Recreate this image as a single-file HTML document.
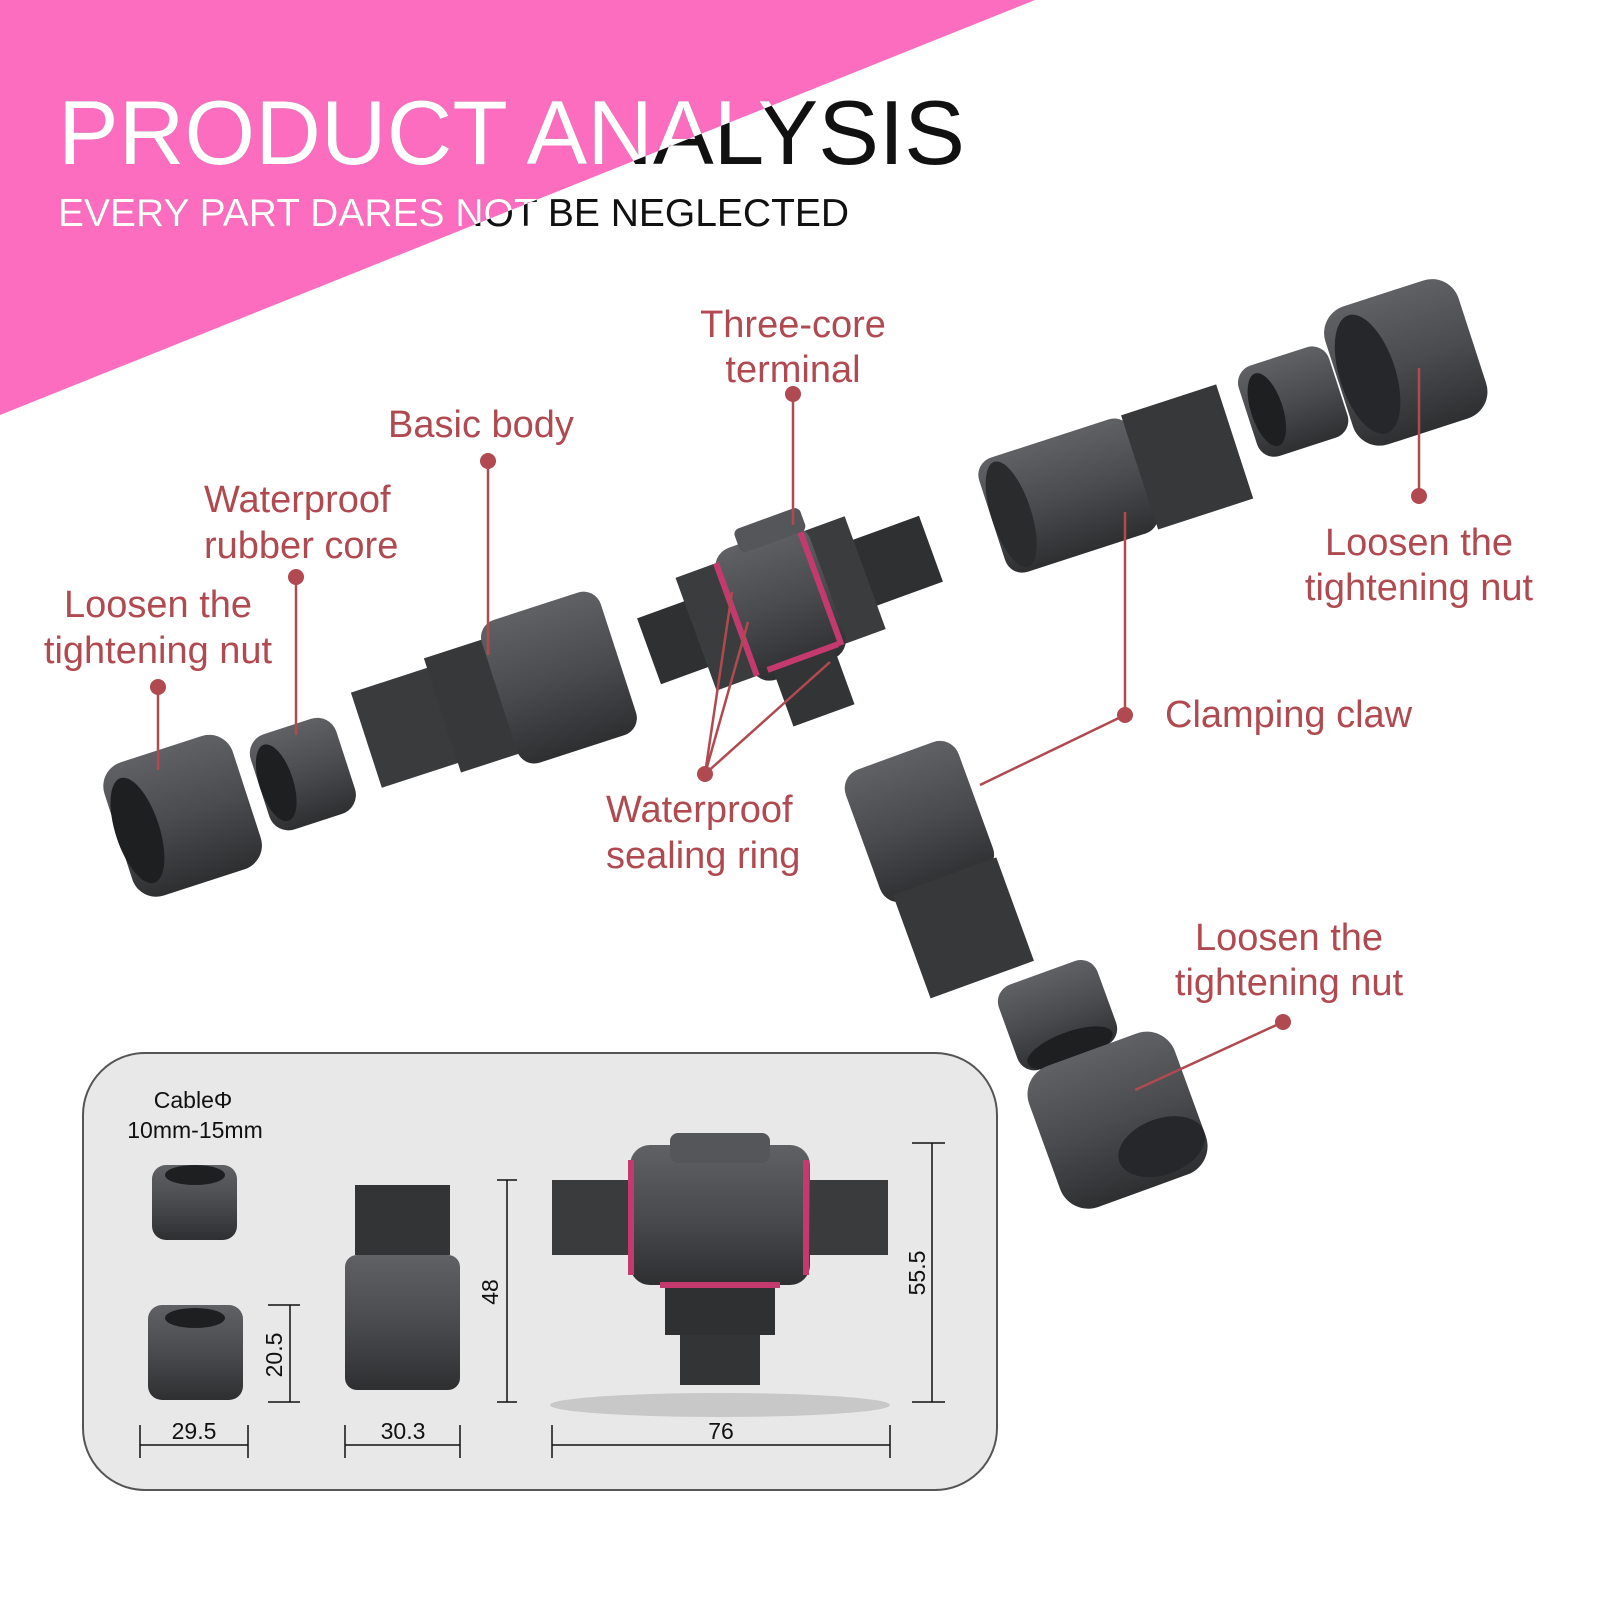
<!DOCTYPE html>
<html><head><meta charset="utf-8"><style>
html,body{margin:0;padding:0;background:#fff}
svg{display:block}
.l{font-family:"Liberation Sans",sans-serif;fill:#b04a50;font-size:38px}
.d{font-family:"Liberation Sans",sans-serif;fill:#111;font-size:23px}
</style></head><body>
<svg width="1600" height="1600" viewBox="0 0 1600 1600" xmlns="http://www.w3.org/2000/svg">
<defs>
<clipPath id="tri"><polygon points="0,0 1035,0 0,415"/></clipPath>
<linearGradient id="g" x1="0" y1="0" x2="0" y2="1"><stop offset="0" stop-color="#606164"/><stop offset="0.5" stop-color="#4a4b4e"/><stop offset="1" stop-color="#2e2f31"/></linearGradient>
</defs>
<polygon points="0,0 1035,0 0,415" fill="#fd6dbf"/>
<g font-family="Liberation Sans, sans-serif">
<text x="58" y="164" font-size="91" fill="#111">PRODUCT ANALYSIS</text>
<text x="58" y="226" font-size="39" fill="#111">EVERY PART DARES NOT BE NEGLECTED</text>
<g clip-path="url(#tri)">
<text x="58" y="164" font-size="91" fill="#fff">PRODUCT ANALYSIS</text>
<text x="58" y="226" font-size="39" fill="#fff">EVERY PART DARES NOT BE NEGLECTED</text>
</g></g>

<!-- left parts -->
<g transform="rotate(-18 185 815)"><rect x="115" y="745" width="135" height="140" rx="25" fill="url(#g)"/><ellipse cx="135" cy="815" rx="22" ry="55" fill="#1e1f20"/></g>
<g transform="rotate(-18 300 775)"><rect x="258" y="725" width="90" height="100" rx="20" fill="url(#g)"/><ellipse cx="275" cy="775" rx="17" ry="40" fill="#1e1f20"/></g>
<g transform="rotate(-18 490 700)">
<rect x="360" y="650" width="90" height="100" fill="#3a3b3d"/>
<rect x="440" y="640" width="70" height="120" fill="#37383a"/>
<rect x="500" y="625" width="125" height="150" rx="18" fill="url(#g)"/></g>
<!-- T body -->
<g transform="rotate(-20 790 600)">
<rect x="640" y="565" width="70" height="70" fill="#2f3032"/>
<rect x="860" y="565" width="80" height="70" fill="#2f3032"/>
<rect x="690" y="540" width="50" height="120" fill="#3b3c3e"/>
<rect x="820" y="540" width="50" height="120" fill="#3b3c3e"/>
<rect x="730" y="530" width="100" height="140" rx="20" fill="url(#g)"/>
<rect x="760" y="515" width="70" height="25" rx="6" fill="#55565a"/>
<rect x="730" y="540" width="6" height="120" fill="#c43a6e"/>
<rect x="820" y="540" width="6" height="120" fill="#c43a6e"/>
<rect x="750" y="660" width="65" height="60" fill="#333436"/>
<rect x="745" y="655" width="75" height="6" fill="#c43a6e"/>
</g>
<!-- right parts -->
<g transform="rotate(-18 1100 480)">
<rect x="985" y="425" width="160" height="120" rx="18" fill="url(#g)"/>
<rect x="1140" y="425" width="100" height="120" fill="#37383a"/>
<ellipse cx="1005" cy="485" rx="20" ry="55" fill="#2a2b2c"/></g>
<g transform="rotate(-18 1290 400)"><rect x="1245" y="355" width="95" height="95" rx="18" fill="url(#g)"/><ellipse cx="1265" cy="402" rx="16" ry="38" fill="#1e1f20"/></g>
<g transform="rotate(-18 1405 360)"><rect x="1335" y="290" width="140" height="145" rx="28" fill="url(#g)"/><ellipse cx="1365" cy="362" rx="28" ry="62" fill="#26272a"/></g>
<!-- lower branch -->
<g transform="rotate(-20 960 860)">
<rect x="875" y="740" width="120" height="140" rx="20" fill="url(#g)"/>
<rect x="885" y="870" width="110" height="110" fill="#37383a"/></g>
<g transform="rotate(-20 1058 1015)"><rect x="1005" y="970" width="105" height="90" rx="18" fill="url(#g)"/><ellipse cx="1058" cy="1050" rx="45" ry="16" fill="#1e1f20"/></g>
<g transform="rotate(-20 1118 1120)"><rect x="1040" y="1045" width="155" height="150" rx="30" fill="url(#g)"/><ellipse cx="1150" cy="1160" rx="45" ry="28" fill="#26272a"/></g>

<!-- leaders -->
<g stroke="#b04a50" stroke-width="2.5" fill="none">
<line x1="793" y1="394" x2="793" y2="525"/>
<line x1="488" y1="461" x2="488" y2="655"/>
<line x1="296" y1="577" x2="296" y2="735"/>
<line x1="158" y1="687" x2="158" y2="770"/>
<line x1="1419" y1="496" x2="1419" y2="368"/>
<line x1="1125" y1="715" x2="1125" y2="512"/>
<line x1="1125" y1="715" x2="980" y2="785"/>
<line x1="705" y1="774" x2="732" y2="592"/>
<line x1="705" y1="774" x2="748" y2="622"/>
<line x1="705" y1="774" x2="830" y2="662"/>
<line x1="1283" y1="1022" x2="1135" y2="1090"/>
</g>
<g fill="#b04a50">
<circle cx="793" cy="394" r="8"/><circle cx="488" cy="461" r="8"/><circle cx="296" cy="577" r="8"/><circle cx="158" cy="687" r="8"/><circle cx="1419" cy="496" r="8"/><circle cx="1125" cy="715" r="8"/><circle cx="705" cy="774" r="8"/><circle cx="1283" cy="1022" r="8"/>
</g>
<text class="l" x="793" y="337" text-anchor="middle">Three-core</text>
<text class="l" x="793" y="382" text-anchor="middle">terminal</text>
<text class="l" x="481" y="437" text-anchor="middle">Basic body</text>
<text class="l" x="204" y="512">Waterproof</text>
<text class="l" x="204" y="558">rubber core</text>
<text class="l" x="158" y="617" text-anchor="middle">Loosen the</text>
<text class="l" x="158" y="663" text-anchor="middle">tightening nut</text>
<text class="l" x="1419" y="555" text-anchor="middle">Loosen the</text>
<text class="l" x="1419" y="600" text-anchor="middle">tightening nut</text>
<text class="l" x="1165" y="727">Clamping claw</text>
<text class="l" x="606" y="822">Waterproof</text>
<text class="l" x="606" y="868">sealing ring</text>
<text class="l" x="1289" y="950" text-anchor="middle">Loosen the</text>
<text class="l" x="1289" y="995" text-anchor="middle">tightening nut</text>

<!-- bottom box -->
<rect x="83" y="1053" width="914" height="437" rx="62" fill="#e8e8e8" stroke="#555" stroke-width="2"/>
<text class="d" x="193" y="1108" text-anchor="middle">CableΦ</text>
<text class="d" x="195" y="1138" text-anchor="middle">10mm-15mm</text>
<rect x="152" y="1165" width="85" height="75" rx="14" fill="url(#g)"/><ellipse cx="195" cy="1175" rx="30" ry="10" fill="#1e1f20"/>
<rect x="148" y="1305" width="95" height="95" rx="14" fill="url(#g)"/><ellipse cx="195" cy="1318" rx="30" ry="10" fill="#1e1f20"/>
<rect x="355" y="1185" width="95" height="70" fill="#333436"/>
<rect x="345" y="1255" width="115" height="135" rx="12" fill="url(#g)"/>
<rect x="552" y="1180" width="80" height="75" fill="#3a3b3d"/>
<rect x="808" y="1180" width="80" height="75" fill="#3a3b3d"/>
<rect x="630" y="1145" width="180" height="140" rx="20" fill="url(#g)"/>
<rect x="670" y="1133" width="100" height="30" rx="8" fill="#55565a"/>
<rect x="628" y="1160" width="6" height="115" fill="#c43a6e"/>
<rect x="803" y="1160" width="6" height="115" fill="#c43a6e"/>
<rect x="665" y="1285" width="110" height="50" fill="#2f3032"/>
<rect x="660" y="1282" width="120" height="6" fill="#c43a6e"/>
<rect x="680" y="1335" width="80" height="50" fill="#333436"/>
<ellipse cx="720" cy="1405" rx="170" ry="12" fill="#c8c8c8"/>
<g stroke="#111" stroke-width="1.5" fill="#111">
<line x1="140" y1="1445" x2="248" y2="1445"/><line x1="140" y1="1425" x2="140" y2="1458"/><line x1="248" y1="1425" x2="248" y2="1458"/>
<line x1="345" y1="1445" x2="460" y2="1445"/><line x1="345" y1="1425" x2="345" y2="1458"/><line x1="460" y1="1425" x2="460" y2="1458"/>
<line x1="552" y1="1445" x2="890" y2="1445"/><line x1="552" y1="1425" x2="552" y2="1458"/><line x1="890" y1="1425" x2="890" y2="1458"/>
<line x1="290" y1="1305" x2="290" y2="1402"/><line x1="268" y1="1305" x2="300" y2="1305"/><line x1="268" y1="1402" x2="300" y2="1402"/>
<line x1="507" y1="1180" x2="507" y2="1402"/><line x1="497" y1="1180" x2="517" y2="1180"/><line x1="497" y1="1402" x2="517" y2="1402"/>
<line x1="932" y1="1143" x2="932" y2="1402"/><line x1="912" y1="1143" x2="945" y2="1143"/><line x1="912" y1="1402" x2="945" y2="1402"/>
</g>
<text class="d" x="194" y="1439" text-anchor="middle">29.5</text>
<text class="d" x="403" y="1439" text-anchor="middle">30.3</text>
<text class="d" x="721" y="1439" text-anchor="middle">76</text>
<text class="d" transform="translate(282 1355) rotate(-90)" text-anchor="middle">20.5</text>
<text class="d" transform="translate(498 1292) rotate(-90)" text-anchor="middle">48</text>
<text class="d" transform="translate(925 1273) rotate(-90)" text-anchor="middle">55.5</text>
</svg>
</body></html>
